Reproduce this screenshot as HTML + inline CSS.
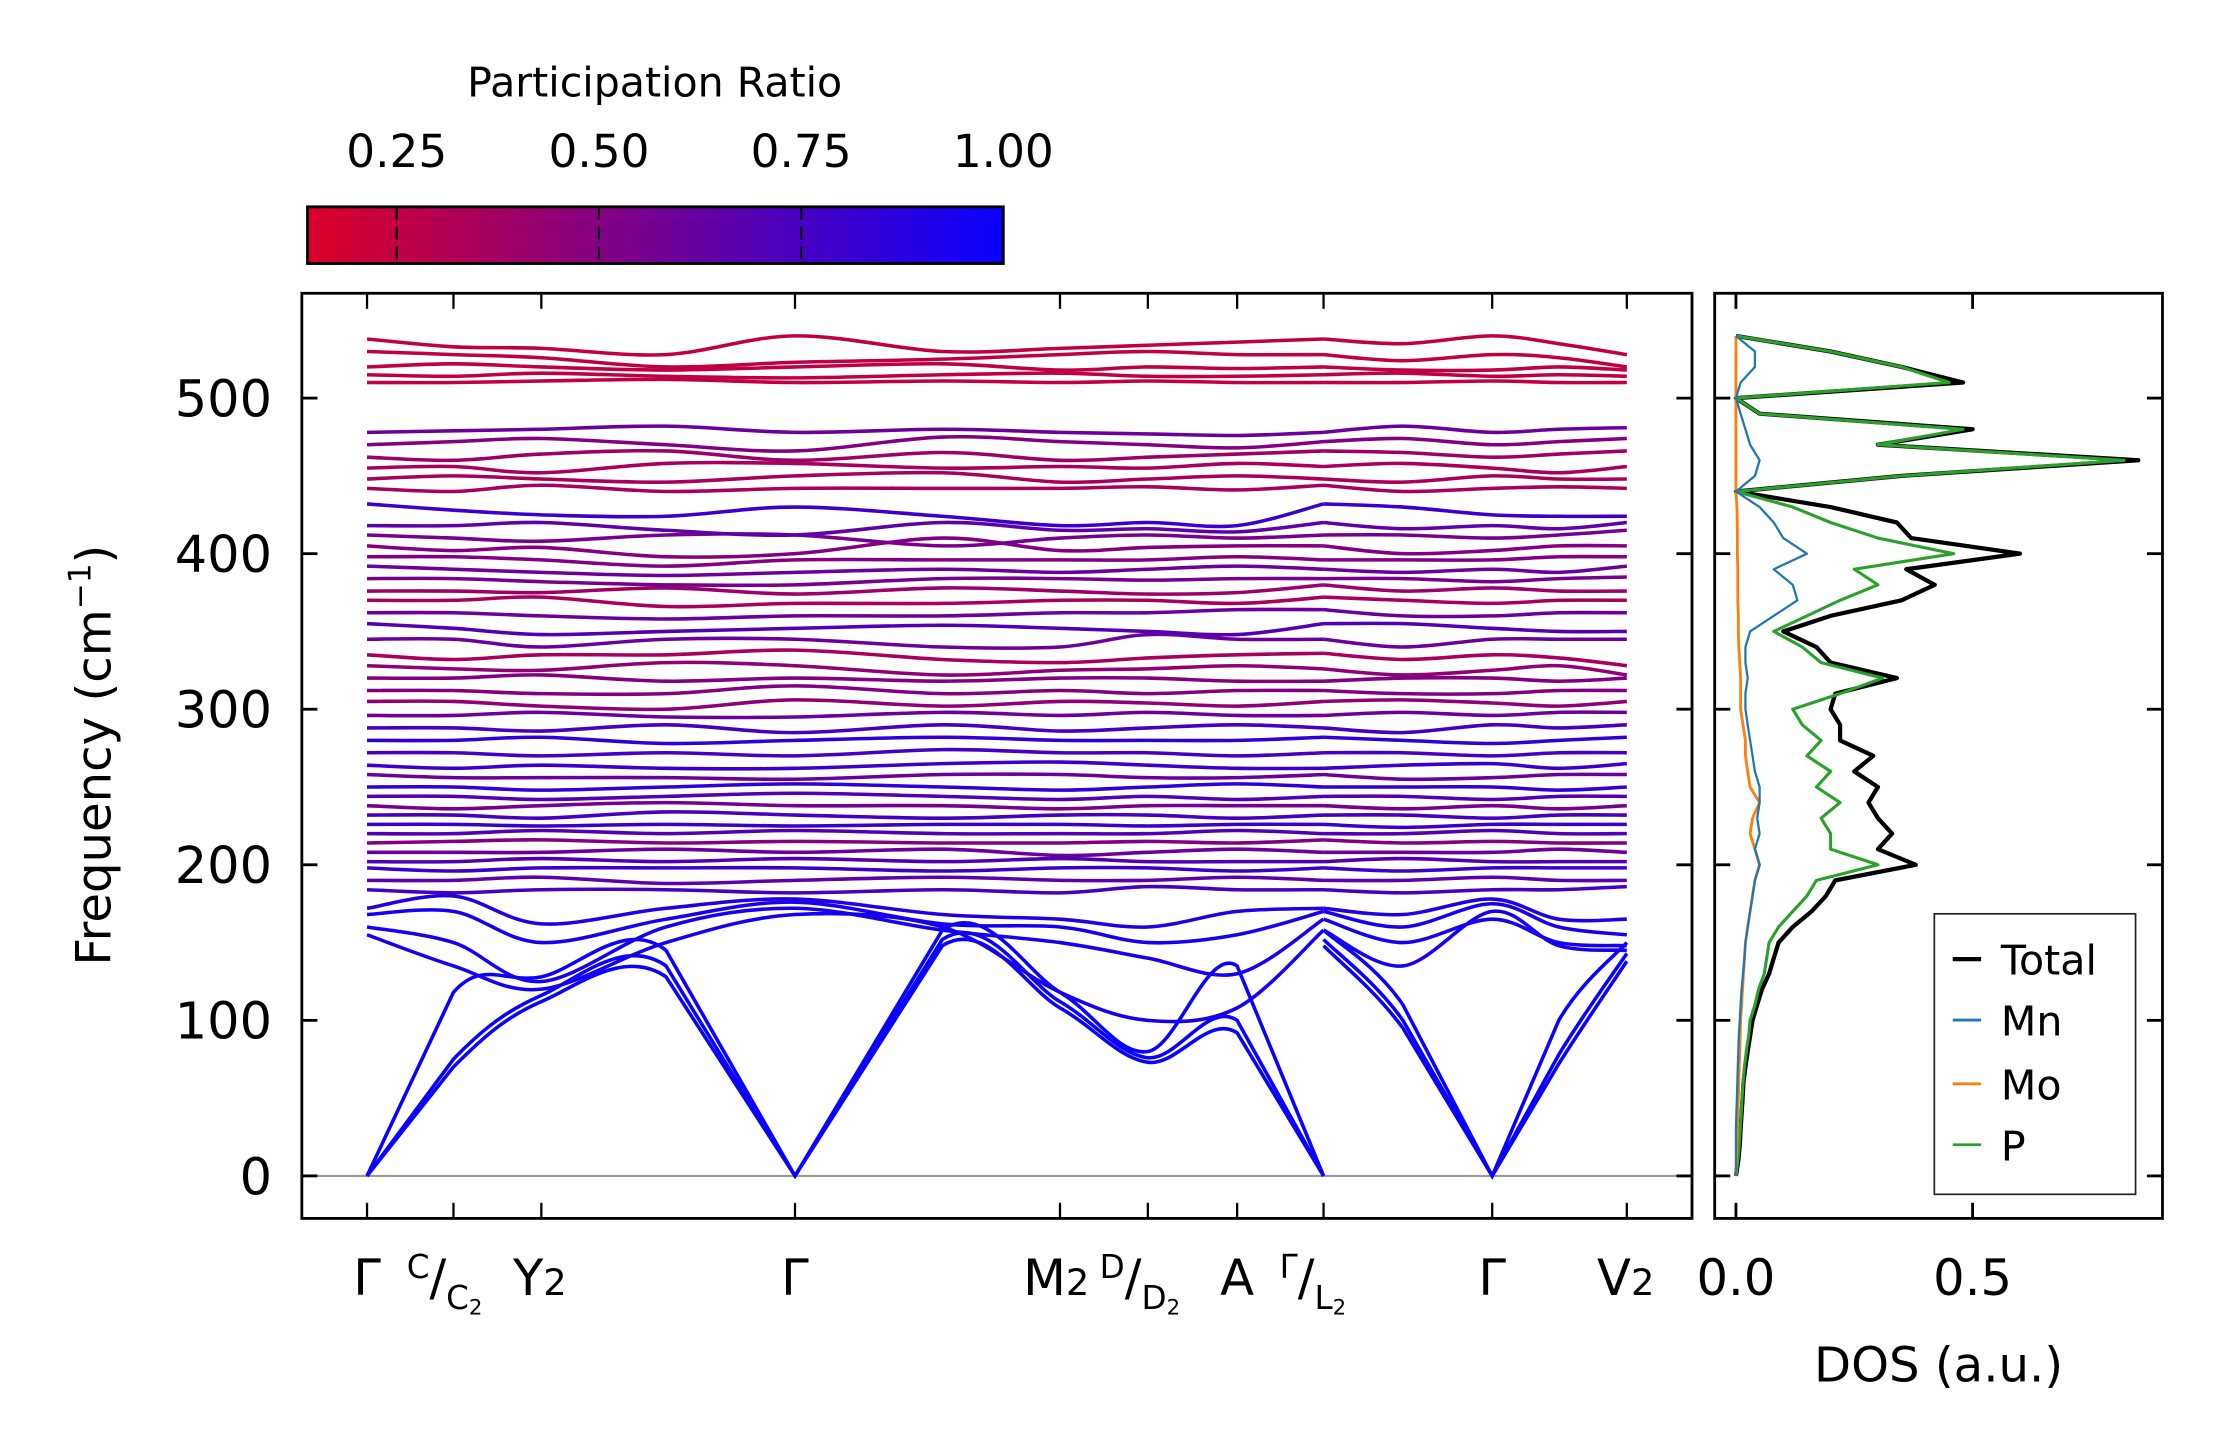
<!DOCTYPE html>
<html><head><meta charset="utf-8"><style>
html,body{margin:0;padding:0;background:#fff;}
svg{display:block;font-family:"DejaVu Sans","Liberation Sans",sans-serif;}
</style></head><body>
<svg id="fig" width="2222" height="1455" viewBox="0 0 1568 1027" preserveAspectRatio="none" xmlns="http://www.w3.org/2000/svg">
<defs>
<linearGradient id="cbg" x1="0" x2="1" y1="0" y2="0">
<stop offset="0" stop-color="rgb(220,0,40)"/><stop offset="1" stop-color="rgb(10,0,255)"/>
</linearGradient>
<clipPath id="mainclip"><rect x="213" y="207" width="981" height="653"/></clipPath>
<clipPath id="dosclip"><rect x="1210" y="207" width="316" height="653"/></clipPath>
</defs>
<g>
<text x="462" y="68" font-size="29" text-anchor="middle">Participation Ratio</text>
<rect x="217" y="146" width="491" height="40" fill="url(#cbg)" stroke="#000" stroke-width="2"/>
<g id="cbticks"></g>
</g>
<g id="mainaxes"></g>
<g id="dosaxes"></g>
<text transform="translate(78,533) rotate(-90)" font-size="34" text-anchor="middle">Frequency (cm<tspan font-size="22" dy="-14">−1</tspan><tspan dy="14">)</tspan></text>
<text x="1368" y="975" font-size="34" text-anchor="middle">DOS (a.u.)</text>
<g font-size="35">
<text x="259" y="914" text-anchor="middle">Γ</text>
<text x="287" y="914"><tspan font-size="23" dy="-12">C</tspan><tspan dy="12">/</tspan><tspan font-size="23" dy="10">C</tspan><tspan font-size="15" dy="4">2</tspan></text>
<text x="362" y="914">Y<tspan font-size="26">2</tspan></text>
<text x="561" y="914" text-anchor="middle">Γ</text>
<text x="722" y="914">M<tspan font-size="26">2</tspan></text>
<text x="776" y="914"><tspan font-size="23" dy="-12">D</tspan><tspan dy="12">/</tspan><tspan font-size="23" dy="10">D</tspan><tspan font-size="15" dy="4">2</tspan></text>
<text x="873" y="914" text-anchor="middle">A</text>
<text x="903" y="914"><tspan font-size="23" dy="-12">Γ</tspan><tspan dy="12">/</tspan><tspan font-size="23" dy="10">L</tspan><tspan font-size="15" dy="4">2</tspan></text>
<text x="1053" y="914" text-anchor="middle">Γ</text>
<text x="1127" y="914">V<tspan font-size="26">2</tspan></text>
</g>
<g>
<rect x="1365" y="645" width="142" height="198" fill="#fff" stroke="#222" stroke-width="1.2"/>
<line x1="1378" x2="1398" y1="677" y2="677" stroke="#000" stroke-width="3"/>
<text x="1412" y="688" font-size="29">Total</text>
<line x1="1378" x2="1398" y1="720" y2="720" stroke="#1f77b4" stroke-width="2"/>
<text x="1412" y="731" font-size="29">Mn</text>
<line x1="1378" x2="1398" y1="765" y2="765" stroke="#ff7f0e" stroke-width="2"/>
<text x="1412" y="776" font-size="29">Mo</text>
<line x1="1378" x2="1398" y1="808" y2="808" stroke="#2ca02c" stroke-width="2"/>
<text x="1412" y="819" font-size="29">P</text>
</g>
<script>
// ---- data ----
var kGrid = [0, 0.61, 1.23, 2.11, 3.02, 4.06, 4.89, 5.51, 6.14, 6.75, 6.75, 7.31, 7.94, 8.41, 8.89];
var kTicks = [0, 0.61, 1.23, 3.02, 4.89, 5.51, 6.14, 6.75, 7.94, 8.89];
var yTicks = [0, 100, 200, 300, 400, 500];
var cbTicks = [0.25, 0.50, 0.75, 1.00];
var cbTickLabels = ["0.25", "0.50", "0.75", "1.00"];
var bands = [
[0,70,112,128,0,148,108,73,92,0,148,95,0,72,138],
[0,75,116,135,0,152,112,76,100,0,152,100,0,78,143],
[0,118,128,145,0,158,118,80,135,0,158,110,0,100,150],
[155,135,120,150,168,160,118,100,108,158,135,170,148,145],
[160,150,125,160,172,158,150,140,130,165,150,165,150,148],
[168,170,150,165,176,162,160,150,155,170,160,175,160,155],
[172,180,162,172,178,168,165,160,170,172,168,178,165,165],
[184,182,184,184,182,184,182,186,184,184,182,184,184,186],
[190,190,192,188,190,192,190,190,192,190,190,192,190,190],
[198,196,198,198,198,196,198,198,196,198,196,198,198,198],
[202,202,204,202,204,202,204,202,202,202,204,202,202,202],
[208,208,208,210,208,210,206,208,210,208,208,208,210,208],
[214,215,216,214,215,214,214,215,214,216,214,215,214,214],
[220,220,222,220,222,220,220,220,222,220,220,222,220,220],
[226,226,225,226,225,226,226,225,226,226,224,226,226,226],
[232,232,230,234,232,230,232,232,230,232,232,230,232,232],
[238,236,238,240,238,238,236,238,238,238,236,238,236,238],
[244,244,242,244,246,244,242,244,242,244,244,242,244,244],
[250,250,248,250,252,250,248,250,252,250,250,250,248,250],
[258,256,256,256,255,258,258,256,256,258,255,256,258,258],
[264,262,264,262,262,265,266,264,262,262,264,265,262,265],
[272,272,270,272,270,274,272,272,270,272,272,270,272,272],
[280,280,282,278,280,282,280,280,280,282,280,278,280,282],
[288,288,286,290,285,290,286,288,290,288,285,290,288,290],
[296,296,298,295,295,298,296,298,296,296,298,296,298,298],
[305,305,302,300,306,302,305,304,302,305,306,304,302,305],
[312,312,310,310,315,310,312,310,312,312,310,310,312,312],
[320,320,322,318,320,318,320,320,318,318,320,320,318,320],
[328,326,325,330,328,322,325,326,328,326,322,325,328,322],
[335,332,335,335,338,332,330,333,335,336,332,335,333,328],
[345,345,340,345,345,340,340,348,345,345,340,345,345,345],
[355,352,348,350,352,354,352,350,348,355,355,352,350,350],
[362,362,360,358,360,360,362,362,364,364,360,360,362,362],
[370,370,372,366,368,368,370,370,368,372,370,368,370,370],
[376,376,375,378,374,378,376,374,375,380,376,378,376,376],
[384,384,382,380,380,384,384,383,384,384,384,382,384,385],
[392,390,388,386,388,390,388,390,392,390,388,390,388,392],
[398,398,396,392,396,396,396,396,398,396,396,396,398,398],
[405,402,404,398,400,410,402,404,405,405,400,402,405,405],
[412,410,408,412,412,405,410,412,410,412,412,410,412,415],
[418,418,420,415,412,420,415,416,414,420,416,418,416,420],
[432,428,425,424,430,424,418,420,418,432,430,425,424,424],
[442,440,444,440,442,442,442,443,441,444,440,442,443,442],
[448,450,448,446,450,452,446,448,450,448,446,450,448,448],
[455,456,452,458,458,455,456,455,458,456,458,455,452,456],
[462,460,464,466,460,465,460,462,464,466,465,462,464,466],
[470,472,474,470,466,475,472,470,468,472,474,470,472,474],
[478,479,480,482,478,480,478,477,476,478,482,478,480,481],
[510,510,511,512,510,511,510,511,510,510,510,511,510,510],
[515,514,516,514,513,515,516,514,514,515,516,514,515,514],
[520,522,520,518,520,522,518,520,519,520,518,518,520,518],
[530,528,526,520,523,525,528,530,528,528,524,528,526,520],
[538,533,532,528,540,530,532,534,536,538,535,540,535,528]
];
var bandPR = [1,1,1,0.95,0.95,0.95,0.9,0.75,0.65,0.8,0.7,0.6,0.5,0.7,0.8,0.75,0.55,0.7,0.85,0.6,0.8,0.75,0.85,0.75,0.6,0.45,0.5,0.5,0.45,0.35,0.6,0.7,0.6,0.35,0.4,0.55,0.6,0.5,0.5,0.55,0.65,0.8,0.35,0.35,0.35,0.4,0.5,0.6,0.25,0.25,0.25,0.25,0.25];
var dosFreq = [0,10,20,30,40,50,60,70,80,90,100,110,120,130,140,150,160,170,180,190,200,210,220,230,240,250,260,270,280,290,300,310,320,330,340,350,360,370,380,390,400,410,420,430,440,450,460,470,480,490,500,510,520,530,540];
var dosTotal = [0,0.005,0.008,0.01,0.012,0.014,0.016,0.02,0.025,0.03,0.035,0.045,0.055,0.07,0.08,0.09,0.12,0.16,0.19,0.21,0.38,0.3,0.33,0.3,0.28,0.3,0.25,0.29,0.22,0.22,0.2,0.21,0.34,0.2,0.17,0.1,0.2,0.35,0.42,0.36,0.6,0.37,0.34,0.2,0.0,0.35,0.85,0.3,0.5,0.05,0.0,0.48,0.35,0.2,0];
var dosMn = [0,0,0,0,0.001,0.002,0.003,0.004,0.005,0.006,0.008,0.01,0.012,0.015,0.018,0.02,0.025,0.03,0.035,0.04,0.05,0.04,0.05,0.045,0.05,0.05,0.04,0.035,0.03,0.025,0.02,0.02,0.025,0.02,0.02,0.03,0.08,0.13,0.12,0.08,0.15,0.1,0.08,0.05,0.0,0.04,0.05,0.03,0.02,0.01,0.0,0.01,0.04,0.04,0];
var dosMo = [0,0.001,0.002,0.003,0.004,0.005,0.006,0.007,0.008,0.009,0.01,0.012,0.014,0.016,0.018,0.02,0.025,0.03,0.035,0.04,0.05,0.04,0.03,0.035,0.05,0.03,0.025,0.02,0.02,0.015,0.01,0.01,0.01,0.008,0.006,0.005,0.005,0.004,0.004,0.004,0.003,0.003,0.003,0.002,0.0,0.0,0.0,0.0,0.0,0.0,0.0,0.0,0.0,0.0,0];
var dosP = [0,0.004,0.007,0.009,0.011,0.013,0.015,0.018,0.022,0.027,0.03,0.04,0.048,0.06,0.065,0.07,0.09,0.12,0.15,0.17,0.3,0.2,0.2,0.18,0.22,0.17,0.2,0.15,0.18,0.14,0.12,0.22,0.31,0.18,0.14,0.08,0.15,0.22,0.3,0.25,0.46,0.3,0.2,0.12,0.0,0.35,0.82,0.3,0.48,0.05,0.0,0.45,0.35,0.2,0];
var dosTicks = [0, 0.5];
var dosTickLabels = ["0.0", "0.5"];

// ---- axes ----
var NS = "http://www.w3.org/2000/svg";
var mainL = 213, mainR = 1194, axTop = 207, axBot = 860;
function xK(k) { return 259 + (k - kGrid[0]) * (1148 - 259) / (kGrid[kGrid.length - 1] - kGrid[0]); }
function yF(f) { return 830 - f * (830 - 281) / 500; }
function xD(v) { return 1225 + v * (1392 - 1225) / 0.5; }
function xCB(p) { return 280 + (p - 0.25) * (708 - 280) / 0.75; }
function prColor(p) {
  var t = Math.max(0, Math.min(1, (p - 0.14) / 0.86));
  return "rgb(" + Math.round(220 + (10 - 220) * t) + ",0," + Math.round(40 + (255 - 40) * t) + ")";
}
function mk(tag, attrs, parent) {
  var e = document.createElementNS(NS, tag);
  for (var a in attrs) e.setAttribute(a, attrs[a]);
  parent.appendChild(e);
  return e;
}
function spline(pts) {
  var d = "M" + pts[0][0].toFixed(1) + "," + pts[0][1].toFixed(1);
  for (var i = 0; i < pts.length - 1; i++) {
    var p0 = pts[i - 1] || pts[i], p1 = pts[i], p2 = pts[i + 1], p3 = pts[i + 2] || p2;
    var c1x = p1[0] + (p2[0] - p0[0]) / 6, c1y = p1[1] + (p2[1] - p0[1]) / 6;
    var c2x = p2[0] - (p3[0] - p1[0]) / 6, c2y = p2[1] - (p3[1] - p1[1]) / 6;
    if (p1[1] >= 829 || p2[1] >= 829) { c1x = p1[0]; c1y = p1[1]; c2x = p2[0]; c2y = p2[1]; }
    d += "C" + c1x.toFixed(1) + "," + c1y.toFixed(1) + " " + c2x.toFixed(1) + "," + c2y.toFixed(1) + " " + p2[0].toFixed(1) + "," + p2[1].toFixed(1);
  }
  return d;
}
var cbt = document.getElementById("cbticks");
cbTicks.forEach(function (p, i) {
  var x = xCB(p);
  if (p < 1) {
    var ln = mk("line", { x1: x, x2: x, y1: 146, y2: 186, stroke: "#000", "stroke-width": 1.5, "stroke-dasharray": "9,5" }, cbt);
    
    
  }
  var t = mk("text", { x: x, y: 118, "font-size": 32, "text-anchor": "middle" }, cbt);
  t.textContent = cbTickLabels[i];
  
  
});

var M = document.getElementById("mainaxes");
var bg = mk("g", { "clip-path": "url(#mainclip)" }, M);


var zl = mk("line", { x1: mainL, x2: mainR, y1: yF(0), y2: yF(0), stroke: "#999", "stroke-width": 1.5 }, bg);


bands.forEach(function (b, i) {
  var vals = b.length === kGrid.length ? b : b.slice(0, 10).concat(b.slice(9));
  var segs = [[]];
  vals.forEach(function (v, j) {
    if (j > 0 && kGrid[j] === kGrid[j - 1]) segs.push([]);
    segs[segs.length - 1].push([xK(kGrid[j]), yF(v)]);
  });
  segs.forEach(function (pts) {
    if (pts.length < 2) return;
    var p = mk("path", { d: spline(pts), fill: "none", stroke: prColor(bandPR[i]), "stroke-width": 2.5 }, bg);
    
    
  });
});
var fr = mk("rect", { x: mainL, y: axTop, width: mainR - mainL, height: axBot - axTop, fill: "none", stroke: "#000", "stroke-width": 2 }, M);


kTicks.forEach(function (k) {
  var x = xK(k);
  var t1 = mk("line", { x1: x, x2: x, y1: axBot, y2: axBot - 11, stroke: "#000", "stroke-width": 1.6 }, M);
  
  
  var t2 = mk("line", { x1: x, x2: x, y1: axTop, y2: axTop + 11, stroke: "#000", "stroke-width": 1.6 }, M);
  
  
});
yTicks.forEach(function (f) {
  var y = yF(f);
  var a = mk("line", { x1: mainL, x2: mainL + 11, y1: y, y2: y, stroke: "#000", "stroke-width": 2 }, M);
  
  
  var b2 = mk("line", { x1: mainR, x2: mainR - 11, y1: y, y2: y, stroke: "#000", "stroke-width": 2 }, M);
  
  
  var t = mk("text", { x: 192, y: y + 13, "font-size": 36, "text-anchor": "end" }, M);
  t.textContent = String(f);
  
  
});

var D = document.getElementById("dosaxes");
var dg = mk("g", { "clip-path": "url(#dosclip)" }, D);


function dosLine(vals, color, w, name) {
  var pts = vals.map(function (v, i) { return xD(v).toFixed(1) + "," + yF(dosFreq[i]).toFixed(1); }).join(" ");
  var pl = mk("polyline", { points: pts, fill: "none", stroke: color, "stroke-width": w, "stroke-linejoin": "round" }, dg);
  
  
}
dosLine(dosTotal, "#000", 3, "dos-total-line");
dosLine(dosP, "#2ca02c", 2.2, "dos-p-line");
dosLine(dosMo, "#ff7f0e", 2, "dos-mo-line");
dosLine(dosMn, "#1f77b4", 1.6, "dos-mn-line");
var df = mk("rect", { x: 1210, y: axTop, width: 316, height: axBot - axTop, fill: "none", stroke: "#000", "stroke-width": 2 }, D);


yTicks.forEach(function (f) {
  var y = yF(f);
  var a = mk("line", { x1: 1210, x2: 1221, y1: y, y2: y, stroke: "#000", "stroke-width": 2 }, D);
  
  
  var b2 = mk("line", { x1: 1526, x2: 1515, y1: y, y2: y, stroke: "#000", "stroke-width": 2 }, D);
  
  
});
dosTicks.forEach(function (v, i) {
  var x = xD(v);
  var a = mk("line", { x1: x, x2: x, y1: axBot, y2: axBot - 11, stroke: "#000", "stroke-width": 2 }, D);
  
  
  var b2 = mk("line", { x1: x, x2: x, y1: axTop, y2: axTop + 11, stroke: "#000", "stroke-width": 2 }, D);
  
  
  var t = mk("text", { x: x, y: 914, "font-size": 35, "text-anchor": "middle" }, D);
  t.textContent = dosTickLabels[i];
  
  
});
</script>
</svg>
</body></html>
